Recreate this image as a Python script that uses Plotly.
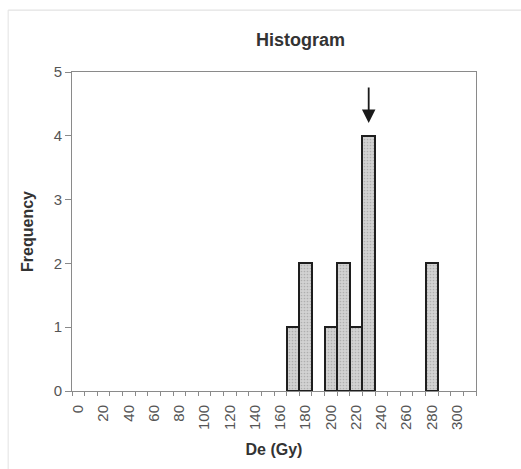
import plotly.graph_objects as go

# Dose bins (Gy) and counts
bins = [170, 180, 200, 210, 220, 230, 280]
counts = [1, 2, 1, 2, 1, 4, 2]
tick_values = list(range(0, 301, 20))
tick_labels = [str(v) for v in tick_values]
peak_bin = 230
peak_count = 4

fig = go.Figure()
fig.add_trace(go.Bar(
    x=bins, y=counts, width=10,
    marker=dict(
        color="#c9c9c9",
        line=dict(color="#1e1e1e", width=2),
        pattern=dict(shape=".", fgcolor="#8c8c8c", bgcolor="#d2d2d2", size=3, solidity=0.25),
    ),
    showlegend=False,
))

# arrow marking the modal bin
fig.add_annotation(
    x=peak_bin, y=peak_count + 0.2, ax=peak_bin, ay=peak_count + 0.78,
    xref="x", yref="y", axref="x", ayref="y",
    showarrow=True, arrowhead=2, arrowsize=1.5, arrowwidth=1.8, arrowcolor="#1a1a1a", text="",
)

# outer chart frame (top and left edges)
fig.add_shape(type="line", xref="paper", yref="paper", x0=-0.158, x1=1.2, y0=1.194, y1=1.194,
              line=dict(color="#dcdcdc", width=1))
fig.add_shape(type="line", xref="paper", yref="paper", x0=-0.158, x1=-0.158, y0=-0.3, y1=1.194,
              line=dict(color="#e2e2e2", width=1))

fig.update_layout(
    width=521, height=469,
    margin=dict(l=72, r=45, t=72, b=78),
    paper_bgcolor="white", plot_bgcolor="white",
    bargap=0,
    font=dict(family="Liberation Sans, Arial, sans-serif", size=15, color="#444"),
    title=dict(text="<b>Histogram</b>", x=0.577, xanchor="center", y=0.915, yanchor="middle",
               font=dict(size=18, color="#333")),
    xaxis=dict(
        range=[-5, 315], tickmode="array", tickvals=tick_values, ticktext=tick_labels,
        tickangle=-90, ticks="", showgrid=False, zeroline=False, ticklabelstandoff=7,
        showline=True, linecolor="#8a8a8a", linewidth=1, mirror=True,
        minor=dict(tickmode="array", tickvals=[v + 5 for v in range(-10, 311, 10)],
                   ticks="outside", ticklen=4, tickcolor="#8a8a8a"),
        title=dict(text="<b>De (Gy)</b>", font=dict(size=16, color="#333"), standoff=14),
        tickfont=dict(size=15, color="#555"),
    ),
    yaxis=dict(
        range=[0, 5], dtick=1, ticks="outside", ticklen=6, tickcolor="#8a8a8a",
        showgrid=False, zeroline=False,
        showline=True, linecolor="#8a8a8a", linewidth=1, mirror=True,
        title=dict(text="<b>Frequency</b>", font=dict(size=16, color="#333"), standoff=16),
        tickfont=dict(size=15, color="#555"),
    ),
)

fig.write_html("out.html")
